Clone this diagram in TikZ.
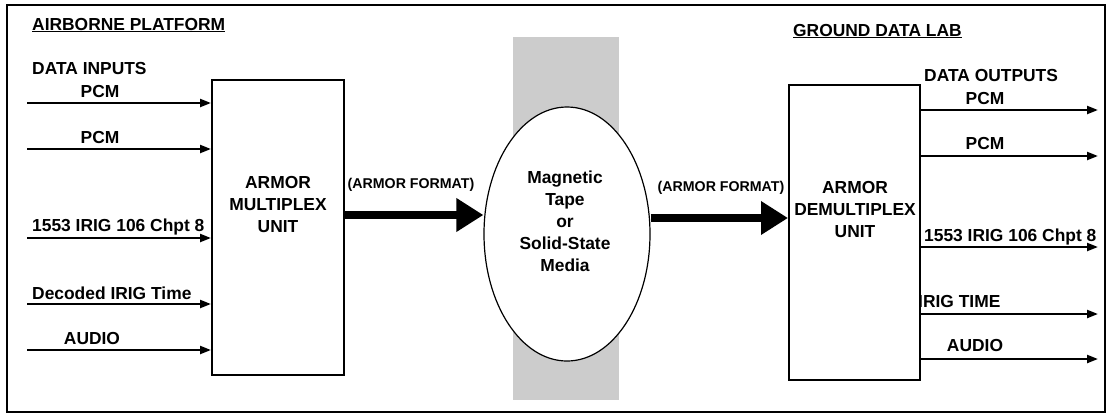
\documentclass[tikz,border=0pt]{standalone}
\usepackage{fontspec}
\setmainfont{Liberation Sans}
\usetikzlibrary{arrows.meta, positioning, shapes.geometric}

\begin{document}
\begin{tikzpicture}[x=1pt, y=-1pt,
  lbl/.style={inner sep=0pt, font=\fontsize{17.4}{22}\selectfont\bfseries},
  fmt/.style={inner sep=0pt, font=\fontsize{14.2}{16}\selectfont\bfseries},
  unitbox/.style={draw, line width=2pt, minimum width=132pt, minimum height=295pt, inner sep=0pt},
  unittext/.style={lbl, align=center},
  sig/.style={line width=2.2pt, -{Triangle[length=11pt,width=8pt]}},
  bigarrow/.style={line width=8pt, -{Triangle[length=27pt,width=32pt]}}
]
\useasboundingbox (0,0) rectangle (1109,416);
\draw[line width=1.8pt] (7,5) rectangle (1105,412);

% headings
\node[lbl, anchor=base west] (air) at (32,30) {\underline{AIRBORNE PLATFORM}};
\node[lbl, anchor=base west] (gnd) at (793,36) {\underline{GROUND DATA LAB}};

% units
\node[unitbox] (mux)   at (278,227.5) {};
\node[unittext] (muxtxt) at (278,205) {ARMOR\\MULTIPLEX\\UNIT};
\node[unitbox, minimum width=131pt] (demux) at (854.5,232.5) {};
\node[unittext] (demuxtxt) at (855,210) {ARMOR\\DEMULTIPLEX\\UNIT};

% recording media
\fill[gray!40] (513,37) rectangle (619,400);
\node[ellipse, draw, fill=white, line width=1.2pt, minimum width=166pt, minimum height=254pt, inner sep=0pt] (media) at (567,234) {};
\node[unittext] (mediatxt) at (565,221) {Magnetic\\Tape\\or\\Solid-State\\Media};

% inputs
\node[lbl, anchor=base west] (din) at (32,74) {DATA INPUTS};
\node[lbl, anchor=base] (pcmA) at (100,97) {PCM};
\node[lbl, anchor=base] (pcmB) at (100,143) {PCM};
\node[lbl, anchor=base west] (busA) at (32,231) {1553 IRIG 106 Chpt 8};
\node[lbl, anchor=base west] (irigA) at (32,299) {Decoded IRIG Time};
\node[lbl, anchor=base] (audA) at (92,344) {AUDIO};
\foreach \y [count=\i] in {103,149,238,304,350} {
  \coordinate (in\i) at (27,\y);
  \draw[sig] (in\i) -- (in\i -| mux.west);
}

% outputs
\node[lbl, anchor=base west] (dout) at (924,81) {DATA OUTPUTS};
\node[lbl, anchor=base] (pcmC) at (985,104) {PCM};
\node[lbl, anchor=base] (pcmD) at (985,149) {PCM};
\node[lbl, anchor=base west] (busB) at (924,241) {1553 IRIG 106 Chpt 8};
\node[lbl, anchor=base west] (irigB) at (918,307) {IRIG TIME};
\node[lbl, anchor=base] (audB) at (975,351) {AUDIO};
\foreach \y [count=\i] in {110,156,247,314,359} {
  \coordinate (out\i) at (1098,\y);
  \draw[sig] (out\i -| demux.east) -- (out\i);
}

% armor format stream
\node[fmt] (fmtA) at (411,185) {(ARMOR FORMAT)};
\node[fmt] (fmtB) at (721,188) {(ARMOR FORMAT)};
\draw[bigarrow] (mux.east |- 0,215) -- (media.west |- 0,215);
\draw[bigarrow] (media.east |- 0,218) -- (demux.west |- 0,218);
\end{tikzpicture}
\end{document}
